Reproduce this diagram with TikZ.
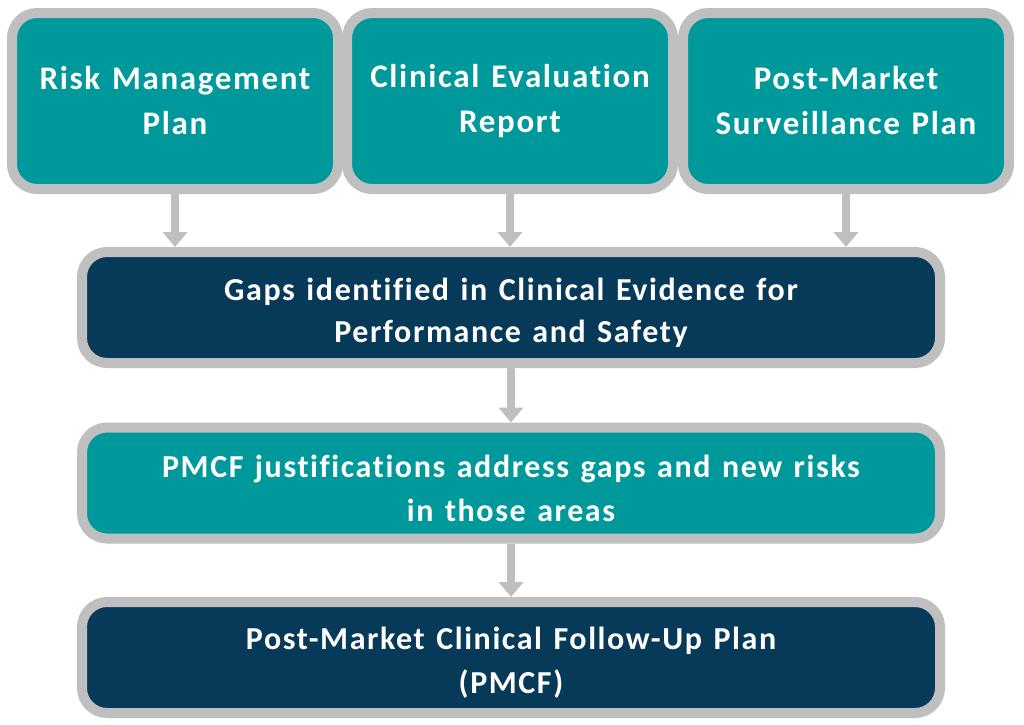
\documentclass[tikz,border=0pt]{standalone}
\usepackage{fontspec}
\setmainfont[Ligatures=NoCommon, LetterSpace=5.0, WordSpace=1.3]{Carlito}
\usetikzlibrary{arrows.meta}
\definecolor{tealbox}{RGB}{0,153,155}
\definecolor{navybox}{RGB}{7,57,88}
\definecolor{rimgray}{RGB}{191,191,191}
\tikzset{
  boxbase/.style={draw=rimgray, line width=10pt, rounded corners=25pt, inner sep=0pt},
  topbox/.style={boxbase, fill=tealbox, minimum width=326pt, minimum height=176pt,
    text=white, font=\bfseries\fontsize{33}{45}\selectfont, align=center},
  widebox/.style={boxbase, minimum width=858pt, minimum height=111pt},
  boxtext/.style={text=white, font=\bfseries\fontsize{32}{44}\selectfont, align=center, inner sep=0pt},
  flowarrow/.style={draw=rimgray, line width=8pt, -{Triangle[width=24pt,length=15pt]}}
}
\begin{document}
\begin{tikzpicture}[x=1pt,y=-1pt]
\useasboundingbox (0,0) rectangle (1024,724);
\node[topbox] (rmp) at (175,101) {Risk Management\\Plan};
\node[topbox] (cer) at (510,101) {Clinical Evaluation\\Report};
\node[topbox] (pms) at (846,101) {Post-Market\\Surveillance Plan};
\node[widebox, fill=navybox] (gaps) at (511,307.5) {};
\begin{scope}
  \clip (87,257) rectangle (935,347);
  \node[boxtext, font=\bfseries\fontsize{32}{42}\selectfont] (gapstext) at (511,313) {Gaps identified in Clinical Evidence for\\Performance and Safety};
\end{scope}
\node[widebox, fill=tealbox] (just) at (511,483) {};
\node[boxtext] (justtext) at (511,488) {PMCF justifications address gaps and new risks\\in those areas};
\node[widebox, fill=navybox] (pmcf) at (511,657.5) {};
\node[boxtext] (pmcftext) at (511,663) {Post-Market Clinical Follow-Up Plan\\(PMCF)};
\draw[flowarrow] (rmp.south) -- (rmp.south |- gaps.north);
\draw[flowarrow] (cer.south) -- (cer.south |- gaps.north);
\draw[flowarrow] (pms.south) -- (pms.south |- gaps.north);
\draw[flowarrow] (gaps.south) -- (just.north);
\draw[flowarrow] (just.south) -- (pmcf.north);
\end{tikzpicture}
\end{document}
